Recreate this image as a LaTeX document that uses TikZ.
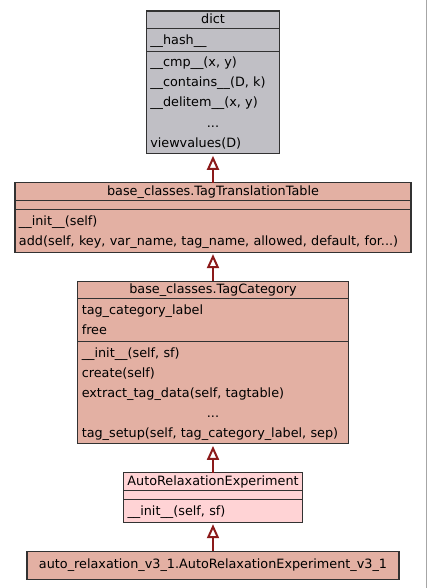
\documentclass[tikz,border=0pt]{standalone}
\usepackage{fontspec}
\setmainfont{DejaVu Sans}
\usetikzlibrary{shapes.multipart, arrows.meta, positioning}
\definecolor{dictgray}{RGB}{192,191,197}
\definecolor{basesalmon}{RGB}{227,176,163}
\definecolor{derivedpink}{RGB}{255,211,213}
\definecolor{edgered}{RGB}{139,26,26}
\definecolor{borderdark}{RGB}{50,50,50}
\newcommand{\rowstrut}{\rule[-5.5bp]{0pt}{20bp}}
\newcommand{\titlestrut}{\rule[-4bp]{0pt}{15bp}}
\newcommand{\mrow}[1]{\rowstrut#1}
\newcommand{\norows}{\rule{0pt}{6.5bp}}
\newcommand{\rowtitle}[1]{\noindent\hbox to\hsize{\hss\titlestrut#1\hss}}
\newcommand{\rowdots}{\noindent\hbox to\hsize{\hss\rowstrut...\hss}}
\tikzstyle{classbox} = [rectangle split, rectangle split parts=3, draw=borderdark, line width=1.1bp, align=left, inner xsep=4bp, inner ysep=0.75bp, outer sep=0pt, font=\fontsize{12.8bp}{20bp}\selectfont]
\tikzstyle{leafbox} = [rectangle, draw=borderdark, line width=1.1bp, minimum height=28bp, minimum width=372bp, outer sep=0pt, font=\fontsize{12.8bp}{20bp}\selectfont]
\tikzstyle{inherit} = [draw=edgered, line width=2bp, -{Triangle[length=14bp, width=12bp, fill=white]}, shorten >=2bp]
\begin{document}
\begin{tikzpicture}[x=1bp, y=-1bp, node distance=29bp]
    \useasboundingbox (0,0) rectangle (427,588);
    \draw[gray!70, line width=1bp] (426.5,0) -- (426.5,588);

    \node[classbox, fill=dictgray, text width=125.5bp, anchor=north] (dict) at (213,11) {\rowtitle{dict}
        \nodepart{two}\mrow{\_\_hash\_\_}
        \nodepart{three}\mrow{\_\_cmp\_\_(x, y)}\\ \mrow{\_\_contains\_\_(D, k)}\\ \mrow{\_\_delitem\_\_(x, y)}\\ \rowdots\\ \mrow{viewvalues(D)}};
    \node[classbox, fill=basesalmon, text width=388bp, below=of dict] (table) {\rowtitle{base\_classes.TagTranslationTable}
        \nodepart{two}\norows
        \nodepart{three}\mrow{\_\_init\_\_(self)}\\ \mrow{add(self, key, var\_name, tag\_name, allowed, default, for...)}};
    \node[classbox, fill=basesalmon, text width=262.5bp, below=of table] (category) {\rowtitle{base\_classes.TagCategory}
        \nodepart{two}\mrow{tag\_category\_label}\\ \mrow{free}
        \nodepart{three}\mrow{\_\_init\_\_(self, sf)}\\ \mrow{create(self)}\\ \mrow{extract\_tag\_data(self, tagtable)}\\ \rowdots\\ \mrow{tag\_setup(self, tag\_category\_label, sep)}};
    \node[classbox, fill=derivedpink, text width=171bp, below=of category] (experiment) {\rowtitle{AutoRelaxationExperiment}
        \nodepart{two}\norows
        \nodepart{three}\mrow{\_\_init\_\_(self, sf)}};
    \node[leafbox, fill=basesalmon, below=of experiment] (leaf) {auto\_relaxation\_v3\_1.AutoRelaxationExperiment\_v3\_1};

    \draw[inherit] (table) -- (dict);
    \draw[inherit] (category) -- (table);
    \draw[inherit] (experiment) -- (category);
    \draw[inherit] (leaf) -- (experiment);
\end{tikzpicture}
\end{document}
